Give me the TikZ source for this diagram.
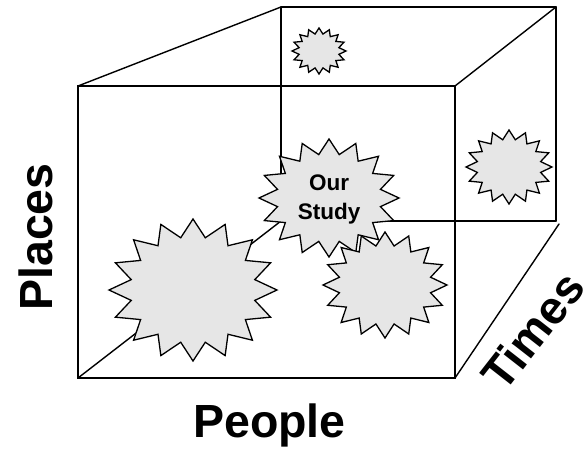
\documentclass[tikz,border=0pt]{standalone}
\usepackage{fontspec}
\setmainfont{Liberation Sans}
\begin{document}
\begin{tikzpicture}[x=1pt,y=-1pt,
  edge/.style={line width=1.4pt, line cap=round},
  burststyle/.style={line width=1.3pt, fill=burstgray, draw=black, line join=miter},
  axislabel/.style={font=\fontsize{46.5}{46}\selectfont\bfseries, inner sep=0pt},
  studylabel/.style={font=\fontsize{22.5}{29}\selectfont\bfseries, align=center, inner sep=0pt}]
\definecolor{burstgray}{HTML}{E6E6E6}
\useasboundingbox (0,0) rectangle (588,449);
% cube vertices
\coordinate (ftl) at (78,86);
\coordinate (ftr) at (455,86);
\coordinate (fbl) at (78,378);
\coordinate (fbr) at (455,378);
\coordinate (btl) at (281,7);
\coordinate (btr) at (556,7);
\coordinate (bbr) at (556,221);
\coordinate (bbl) at (281,221);
\coordinate (bdr) at (559,224);
% edges
\draw[edge] (btl) -- (btr);
\draw[edge] (btr) -- (bbr);
\draw[edge] (bbr) -- (bbl);
\draw[edge] (btl) -- (bbl);
\draw[edge] (fbl) -- (bbl);
\draw[edge] (ftl) -- (btl);
\draw[edge] (ftr) -- (btr);
\draw[edge] (fbr) -- (bdr);
\draw[edge] (ftl) -- (ftr) -- (fbr) -- (fbl) -- cycle;
% bursts: center x, center y, rx, ry
\newcommand\myburst[4]{%
  \draw[burststyle] plot[samples at={0,...,31}, variable=\k]
    ({#1+(0.875+0.125*cos(\k*180))*#3*cos(90+\k*11.25)},
     {#2-(0.875+0.125*cos(\k*180))*#4*sin(90+\k*11.25)}) -- cycle;}
\myburst{319}{51}{27}{23}
\myburst{509}{167}{43}{37}
\myburst{193}{290}{84}{71}
\myburst{329}{198}{70}{59}
\myburst{385}{285}{62}{53}
\node[studylabel] (study) at (329,199) {Our\\Study};
% axis labels
\node[axislabel, anchor=base] (people) at (269.5,437) {People};
\node[axislabel, rotate=90] (places) at (36,237) {Places};
\node[axislabel, rotate=52] (times) at (533,331) {Times};
\end{tikzpicture}
\end{document}
